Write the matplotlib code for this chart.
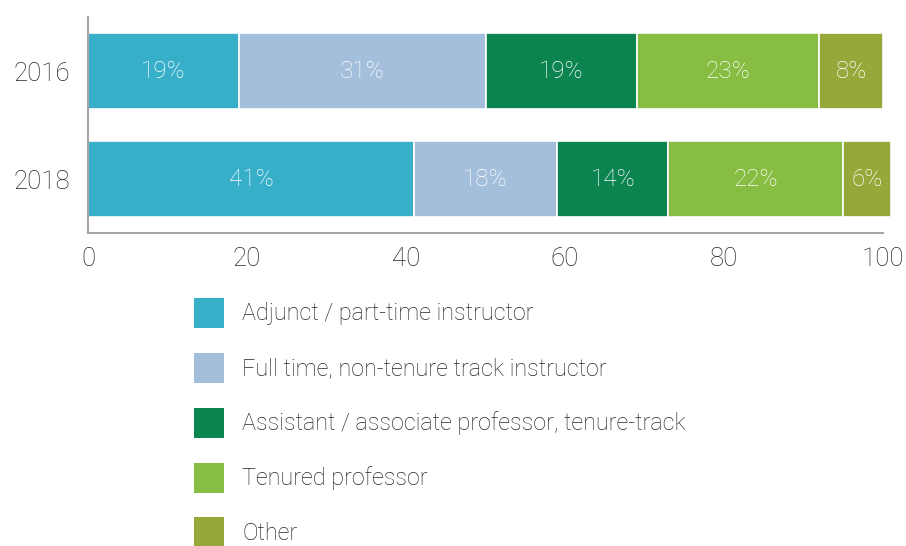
import matplotlib
matplotlib.use("Agg")
import matplotlib.pyplot as plt
from matplotlib.patches import Patch
import numpy as np

years = ["2016", "2018"]
categories = [
    "Adjunct / part-time instructor",
    "Full time, non-tenure track instructor",
    "Assistant / associate professor, tenure-track",
    "Tenured professor",
    "Other",
]
values_2016 = [19, 31, 19, 23, 8]
values_2018 = [41, 18, 14, 22, 6]
colors = ["#38AFC9", "#A3BFDC", "#0B844F", "#86BD42", "#97A83A"]
xticks = [0, 20, 40, 60, 80, 100]

plt.rcParams['font.family'] = ['Roboto', 'DejaVu Sans']
TEXT = "#262626"
W = "light"

fig = plt.figure(figsize=(9.06, 5.46), dpi=100)
ax = fig.add_axes([88/906, 1-233/546, (883-88)/906, (233-17)/546])

data = np.array([values_2016, values_2018])
ypos = np.arange(len(years))
left = np.zeros(len(years))
for i, cat in enumerate(categories):
    vals = data[:, i]
    ax.barh(ypos, vals, left=left, height=0.705, color=colors[i],
            edgecolor="white", linewidth=1.2, clip_on=False, label=cat)
    for y, v, l in zip(ypos, vals, left):
        ax.text(l + v/2, y, f"{v}%", ha="center", va="center", color="white",
                fontsize=17.5, fontweight=W)
    left += vals

ax.set_xlim(0, 100)
ax.set_ylim(1.5, -0.5)
ax.set_yticks(ypos)
ax.set_yticklabels(years)
ax.set_xticks(xticks)
ax.tick_params(axis="both", length=0, colors=TEXT, labelsize=18.5)
ax.tick_params(axis="x", pad=10)
ax.tick_params(axis="y", pad=13)
for lab in ax.get_xticklabels() + ax.get_yticklabels():
    lab.set_fontweight(W)
for s in ["top", "right"]:
    ax.spines[s].set_visible(False)
for s in ["left", "bottom"]:
    ax.spines[s].set_color("#A6A6A6")
    ax.spines[s].set_linewidth(1.5)

handles = [Patch(facecolor=c, edgecolor="none") for c in colors]
leg = fig.legend(handles, categories, loc="upper left",
                 bbox_to_anchor=(189/906, 1-293/546), frameon=False,
                 fontsize=16.8, handlelength=1.29, handleheight=1.6,
                 labelspacing=1.07, handletextpad=0.8, borderaxespad=0,
                 borderpad=0.2)
for t in leg.get_texts():
    t.set_color(TEXT)
    t.set_fontweight(W)

fig.savefig("out.png", dpi=100)
